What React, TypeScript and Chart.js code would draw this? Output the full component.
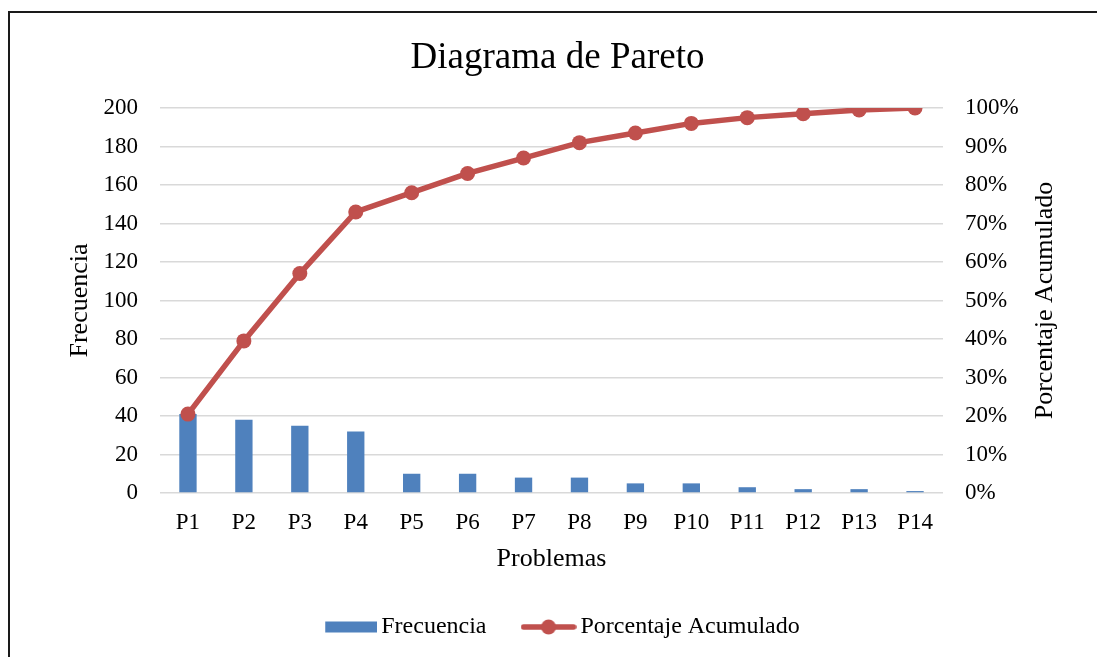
import { useEffect, useRef } from 'react';
import { Chart, registerables } from 'chart.js';

Chart.register(...registerables);

const FONT = "'Liberation Serif', 'Times New Roman', serif";

const chartTitle = 'Diagrama de Pareto';
const xAxisTitle = 'Problemas';
const leftAxisTitle = 'Frecuencia';
const rightAxisTitle = 'Porcentaje Acumulado';

const categories = ['P1', 'P2', 'P3', 'P4', 'P5', 'P6', 'P7', 'P8', 'P9', 'P10', 'P11', 'P12', 'P13', 'P14'];
const frecuencia = [41, 38, 35, 32, 10, 10, 8, 8, 5, 5, 3, 2, 2, 1];
const porcentajeAcumulado = [20.5, 39.5, 57, 73, 78, 83, 87, 91, 93.5, 96, 97.5, 98.5, 99.5, 100];

const leftTickMax = 200;
const leftTickStep = 20;
const rightTickMax = 100;
const rightTickStep = 10;

const BAR_COLOR = '#4F81BD';
const LINE_COLOR = '#C0504D';
const GRID_COLOR = '#D9D9D9';

export default function App() {
  const ref = useRef<HTMLCanvasElement>(null);

  useEffect(() => {
    if (!ref.current) return;

    const barIcon = document.createElement('canvas');
    barIcon.width = 56;
    barIcon.height = 16;
    const bc = barIcon.getContext('2d')!;
    bc.fillStyle = BAR_COLOR;
    bc.fillRect(4, 2.5, 52, 11);

    const lineIcon = document.createElement('canvas');
    lineIcon.width = 56;
    lineIcon.height = 18;
    const lc = lineIcon.getContext('2d')!;
    lc.strokeStyle = LINE_COLOR;
    lc.lineWidth = 5.5;
    lc.lineCap = 'round';
    lc.beginPath();
    lc.moveTo(3, 9);
    lc.lineTo(53, 9);
    lc.stroke();
    lc.fillStyle = LINE_COLOR;
    lc.beginPath();
    lc.arc(28, 9, 7.5, 0, Math.PI * 2);
    lc.fill();

    const rightTitlePlugin = {
      id: 'rightTitle',
      afterDraw(chart: any) {
        const { ctx, chartArea } = chart;
        const scale = chart.scales.y1;
        ctx.save();
        ctx.translate(scale.right - 52, (chartArea.top + chartArea.bottom) / 2);
        ctx.rotate(-Math.PI / 2);
        ctx.font = `26px ${FONT}`;
        ctx.fillStyle = '#000';
        ctx.textAlign = 'center';
        ctx.textBaseline = 'middle';
        ctx.fillText(rightAxisTitle, 0, 0);
        ctx.restore();
      },
    };

    const legendShiftPlugin = {
      id: 'legendShift',
      afterLayout(chart: any) {
        if (chart.legend) {
          chart.legend.left += 7;
          chart.legend.right += 7;
        }
      },
    };

    const chart = new Chart(ref.current, {
      type: 'bar',
      data: {
        labels: categories,
        datasets: [
          {
            type: 'bar',
            label: 'Frecuencia',
            data: frecuencia,
            backgroundColor: BAR_COLOR,
            borderWidth: 0,
            barPercentage: 0.31,
            categoryPercentage: 1,
            yAxisID: 'y',
            order: 1,
          },
          {
            type: 'line',
            label: 'Porcentaje Acumulado',
            data: porcentajeAcumulado,
            borderColor: LINE_COLOR,
            backgroundColor: LINE_COLOR,
            borderWidth: 5.5,
            pointRadius: 7.5,
            pointBackgroundColor: LINE_COLOR,
            pointBorderWidth: 0,
            tension: 0,
            yAxisID: 'y1',
            order: 0,
          } as any,
        ],
      },
      options: {
        animation: false,
        responsive: true,
        maintainAspectRatio: false,
        layout: { padding: { left: 8, right: 0, top: 1, bottom: 8 } },
        font: { family: FONT },
        plugins: {
          title: {
            display: true,
            text: chartTitle,
            color: '#000',
            font: { family: FONT, size: 37, weight: 'normal' },
            padding: { top: 22, bottom: 27.6 },
          },
          legend: {
            position: 'bottom',
            labels: {
              color: '#000',
              font: { family: FONT, size: 24 },
              usePointStyle: true,
              pointStyleWidth: 40,
              padding: 42,
              generateLabels(chart: any) {
                const items = Chart.defaults.plugins.legend.labels.generateLabels(chart);
                items.sort((a: any, b: any) => a.datasetIndex - b.datasetIndex);
                items.forEach((it: any) => {
                  it.pointStyle = it.datasetIndex === 0 ? barIcon : lineIcon;
                });
                return items;
              },
            },
          },
          tooltip: { enabled: false },
        },
        scales: {
          x: {
            grid: { display: false, drawTicks: false },
            border: { display: false },
            ticks: { color: '#000', font: { family: FONT, size: 23 }, padding: 16 },
            title: {
              display: true,
              text: xAxisTitle,
              color: '#000',
              font: { family: FONT, size: 26, lineHeight: 1 },
              padding: { top: 0, bottom: 1 },
            },
            afterFit(scale: any) {
              scale.height = 80;
            },
          },
          y: {
            position: 'left',
            min: 0,
            max: leftTickMax,
            ticks: { stepSize: leftTickStep, color: '#000', font: { family: FONT, size: 23 }, padding: 22 },
            grid: { color: GRID_COLOR, lineWidth: 1.5, drawTicks: false },
            border: { display: false },
            title: {
              display: true,
              text: leftAxisTitle,
              color: '#000',
              font: { family: FONT, size: 26 },
              padding: { top: 47, bottom: 0 },
            },
            afterFit(scale: any) {
              scale.width = 142;
            },
          },
          y1: {
            position: 'right',
            min: 0,
            max: rightTickMax,
            ticks: {
              stepSize: rightTickStep,
              color: '#000',
              font: { family: FONT, size: 23 },
              padding: 22,
              callback: (v: any) => `${v}%`,
            },
            grid: { display: false, drawTicks: false },
            border: { display: false },
            afterFit(scale: any) {
              scale.width = 154;
            },
          },
        },
      },
      plugins: [rightTitlePlugin, legendShiftPlugin],
    } as any);

    return () => chart.destroy();
  }, []);

  return (
    <div style={{ position: 'fixed', inset: 0, overflow: 'hidden', background: '#fff' }}>
      <div
        style={{
          position: 'absolute',
          left: 8,
          top: 11,
          width: 1100,
          height: 660,
          borderLeft: '2px solid #1a1a1a',
          borderTop: '2px solid #1a1a1a',
        }}
      >
        <div style={{ position: 'absolute', left: 0, top: 0, width: 1087, height: 644 }}>
          <canvas ref={ref} />
        </div>
      </div>
    </div>
  );
}
